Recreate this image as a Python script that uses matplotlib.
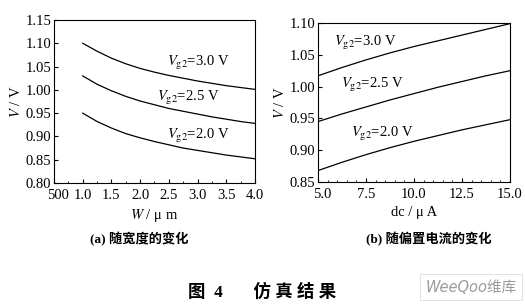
import matplotlib
matplotlib.use("Agg")
import matplotlib.pyplot as plt
import matplotlib.transforms as mtransforms
from matplotlib.ticker import AutoMinorLocator, FixedLocator

plt.rcParams['font.family'] = ['Liberation Serif', 'Noto Sans CJK SC']
plt.rcParams['mathtext.fontset'] = 'stix'

# Panel (a): V vs W
w = [1.0, 1.25, 1.5, 1.75, 2.0, 2.25, 2.5, 2.75, 3.0, 3.25, 3.5, 3.75, 4.0]
v_w_30 = [1.100, 1.083, 1.068, 1.056, 1.046, 1.038, 1.031, 1.025, 1.019, 1.014, 1.009, 1.005, 1.001]
v_w_25 = [1.030, 1.012, 0.998, 0.986, 0.976, 0.968, 0.960, 0.954, 0.948, 0.942, 0.937, 0.932, 0.928]
v_w_20 = [0.950, 0.932, 0.918, 0.906, 0.897, 0.889, 0.882, 0.875, 0.870, 0.865, 0.860, 0.856, 0.852]
w_ticks = [0.5, 1.0, 1.5, 2.0, 2.5, 3.0, 3.5, 4.0]
w_ticklabels = ['500', '1.0', '1.5', '2.0', '2.5', '3.0', '3.5', '4.0']
va_ticks = [0.80, 0.85, 0.90, 0.95, 1.00, 1.05, 1.10, 1.15]

# Panel (b): V vs dc
dc = [5.0, 6.25, 7.5, 8.75, 10.0, 11.25, 12.5, 13.75, 15.0]
v_dc_30 = [1.017, 1.030, 1.042, 1.053, 1.063, 1.072, 1.081, 1.090, 1.099]
v_dc_25 = [0.945, 0.957, 0.968, 0.979, 0.989, 0.999, 1.008, 1.017, 1.025]
v_dc_20 = [0.868, 0.881, 0.893, 0.904, 0.914, 0.923, 0.932, 0.940, 0.948]
dc_ticks = [5.0, 7.5, 10.0, 12.5, 15.0]
vb_ticks = [0.85, 0.90, 0.95, 1.00, 1.05, 1.10]

labels = [r'$V_{\rm g2}$=3.0 V', r'$V_{\rm g2}$=2.5 V', r'$V_{\rm g2}$=2.0 V']

fig = plt.figure(figsize=(5.25, 3.05), dpi=100)
W, H = 525, 305
def box(l, t, r, b):
    return [l / W, 1 - b / H, (r - l) / W, (b - t) / H]

ax1 = fig.add_axes(box(54, 20, 255, 183))
ax2 = fig.add_axes(box(318, 23, 510, 182))

lw = 0.9
for y in (v_w_30, v_w_25, v_w_20):
    ax1.plot(w, y, color='black', lw=lw)
for y in (v_dc_30, v_dc_25, v_dc_20):
    ax2.plot(dc, y, color='black', lw=lw)

ax1.set_xlim(0.5, 4.0)
ax1.set_ylim(0.80, 1.15)
ax1.xaxis.set_major_locator(FixedLocator(w_ticks))
ax1.set_xticklabels(w_ticklabels)
ax1.set_yticks(va_ticks)
ax1.set_yticklabels([f'{t:.2f}' for t in va_ticks])

ax2.set_xlim(5.0, 15.0)
ax2.set_ylim(0.85, 1.10)
ax2.set_xticks(dc_ticks)
ax2.set_xticklabels([f'{t:.1f}' for t in dc_ticks])
ax2.set_yticks(vb_ticks)
ax2.set_yticklabels([f'{t:.2f}' for t in vb_ticks])

for ax in (ax1, ax2):
    ax.xaxis.set_minor_locator(AutoMinorLocator(2 if ax is ax1 else 5))
    ax.tick_params(direction='in', length=3, width=0.8, labelsize=10.5, pad=2,
                   top=False, right=False)
    ax.tick_params(axis='x', pad=4)
    ax.tick_params(which='minor', direction='in', length=1.8, width=0.6,
                   top=False, right=False)
    for s in ax.spines.values():
        s.set_linewidth(0.8)
    ax.set_ylabel(r'$V$ / V', fontsize=10.5, labelpad=2)

# nudge first x tick labels slightly right, as in the reference
for ax in (ax1, ax2):
    first = ax.get_xticklabels()[0]
    first.set_transform(first.get_transform() +
                        mtransforms.ScaledTranslation(4 / 100, 0, fig.dpi_scale_trans))

ax1.set_xlabel(r'$W$ / μ m', fontsize=10.5, labelpad=4)
ax2.set_xlabel('dc / μ A', fontsize=10.5, labelpad=4)

for (x, y), t in zip([(2.47, 1.057), (2.3, 0.982), (2.47, 0.90)], labels):
    ax1.text(x, y, t, fontsize=10.5, va='center', ha='left')
for (x, y), t in zip([(5.85, 1.068), (6.2, 1.003), (6.7, 0.926)], labels):
    ax2.text(x, y, t, fontsize=10.5, va='center', ha='left')

fig.text(139 / W, 1 - 239 / H, '(a) 随宽度的变化', fontsize=9.5, ha='center', va='center',
         fontweight='bold')
fig.text(429 / W, 1 - 239 / H, '(b) 随偏置电流的变化', fontsize=9.5, ha='center', va='center',
         fontweight='bold')
fig.text(262 / W, 1 - 292 / H, '图  4       仿 真 结 果', fontsize=12.5, ha='center',
         va='center', fontweight='bold')
fig.text(471 / W, 1 - 287 / H, 'WeeQoo维库', fontsize=10.5, ha='center', va='center',
         color='#9a9a9a', style='italic', family=['DejaVu Sans', 'Noto Sans CJK SC'],
         bbox=dict(boxstyle='square,pad=0.35', fc='white', ec='#dddddd', lw=0.6))

fig.savefig('out.png', dpi=100)
